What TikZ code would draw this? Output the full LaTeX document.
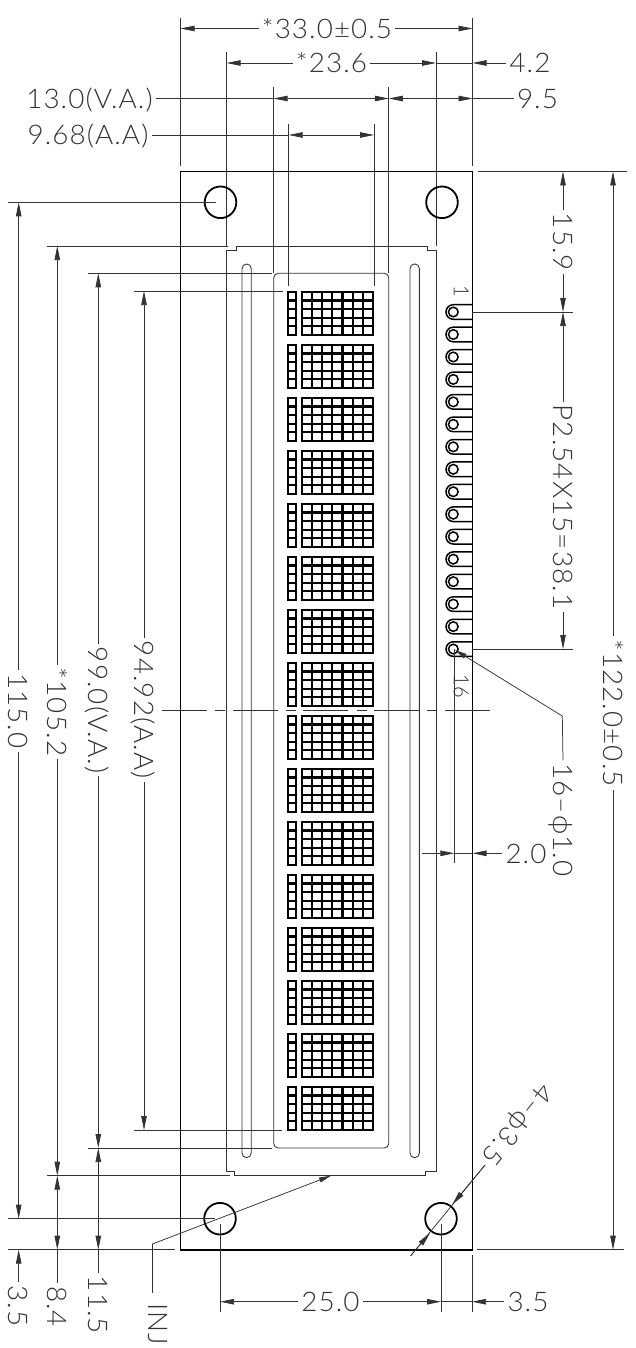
\documentclass[tikz,border=0pt]{standalone}
\usepackage{fontspec}
\usetikzlibrary{arrows.meta}
\newfontfamily\cad{Lato Light}[FakeStretch=1.03,LetterSpace=4]
\newfontfamily\cadsmall{Lato Light}[FakeStretch=0.95]
\definecolor{thin}{gray}{0.2}
\tikzset{
 x=1pt,y=-1pt,
 dim/.style={draw=thin,line width=0.75pt},
 ext/.style={draw=thin,line width=0.8pt},
 heavy/.style={draw=black,line width=1.8pt},
 inner/.style={draw=thin,line width=0.85pt},
 cell/.style={draw=black,line width=2.3pt},
 pin/.style={draw=black,line width=1.5pt},
 tipa/.style={{Triangle[length=14pt,width=5.5pt]}-},
 tipb/.style={-{Triangle[length=14pt,width=5.5pt]}},
 tipab/.style={{Triangle[length=14pt,width=5.5pt]}-{Triangle[length=14pt,width=5.5pt]}},
 lab/.style={font=\cad\fontsize{27}{27}\selectfont,text=thin,inner xsep=3pt,inner ysep=0pt,text height=19.5pt,text depth=0pt},
 labv/.style={lab,rotate=-90},
 tinylab/.style={font=\cadsmall\fontsize{21}{21}\selectfont,text=thin,inner sep=0pt,text height=15pt,text depth=0pt,rotate=-90},
}
\begin{document}
\begin{tikzpicture}
\useasboundingbox (0,0) rectangle (636,1348);
\fill[white] (0,0) rectangle (636,1348);
% named coordinates for the board
\coordinate (TL) at (180.5,171.5);
\coordinate (BR) at (472.5,1249.7);
\coordinate (H1) at (220.5,202.3);
\coordinate (H2) at (442,202.3);
\coordinate (H3) at (220,1218.7);
\coordinate (H4) at (441,1218.7);
% extension lines vertical
\foreach \x/\a/\b in {180.5/18/166, 472.5/18/166, 226.5/52/246, 436/52/246, 273.7/87.5/273, 388.8/87.5/273, 288.7/124/286, 374/124/286}
  \draw[ext] (\x,\a) -- (\x,\b);
% board
\draw[heavy] (TL) rectangle (BR);
\foreach \h in {H1,H2,H3,H4} \draw[heavy] (\h) circle (15.8);
% frame
\draw[inner] (236.7,246) -- (427,246) -- (427,250) -- (436,250) -- (436,1171) -- (425.7,1171) -- (425.7,1175.7) -- (234.3,1175.7) -- (234.3,1171) -- (226.5,1171) -- (226.5,250) -- (236.7,250) -- cycle;
% window
\draw[inner,rounded corners=4.5pt] (273.7,273.3) rectangle (388.8,1148);
% slots
\draw[inner] (242,1153) -- (242,268.6) arc[start angle=180,end angle=360,radius=4.6] -- (251.2,1153) arc[start angle=0,end angle=180,radius=4.6];
\draw[inner] (410,1153) -- (410,268.6) arc[start angle=180,end angle=360,radius=4.7] -- (419.4,1153) arc[start angle=0,end angle=180,radius=4.7];
% char blocks
\foreach \i in {0,...,15}{
 \begin{scope}[yshift=-\i*53pt]
  \draw[cell] (288.3,292) rectangle (296.3,334.8);
  \draw[cell] (301.7,292) rectangle (373,334.8);
  \foreach \r in {1,...,4} {
    \draw[cell] (288.3,292+\r*8.56) -- (296.3,292+\r*8.56);
    \draw[cell] (301.7,292+\r*8.56) -- (373,292+\r*8.56);
  }
  \foreach \c in {1,...,6} \draw[cell] (301.7+\c*10.19,292) -- (301.7+\c*10.19,334.8);
 \end{scope}
}
% pins
\foreach \i in {0,...,15}{
 \begin{scope}[yshift=-\i*22.47pt]
  \draw[pin] (472,304.7) -- (453.3,304.7) arc[start angle=-90,end angle=-270,radius=7.3] -- (472,319.3);
  \draw[pin] (453.3,312) circle (4.8);
 \end{scope}
}
\node[tinylab] (p1) at (461.3,291) {1};
\node[tinylab] (p16) at (461.3,686) {16};
% center line
\foreach \a/\b in {162/206.7,215/225,233.3/277.7,286/295.7,303/348.3,356.7/366.7,374/419,427/437,445/490}
  \draw[dim] (\a,710.5) -- (\b,710.5);
% top dims
\node[lab] (d33) at (327,28.5) {*33.0±0.5};
\draw[dim,tipa] (180.5,28.5) -- (d33.west);
\draw[dim,tipb] (d33.east) -- (472.5,28.5);
\node[lab] (d236) at (331.5,63) {*23.6};
\draw[dim,tipa] (226.5,63) -- (d236.west);
\draw[dim,tipb] (d236.east) -- (436,63);
\node[lab] (d42) at (530,63) {4.2};
\draw[dim] (436,63) -- (472.5,63);
\draw[dim,tipa] (472.5,63) -- (d42.west);
\node[lab] (d13) at (89.5,98.5) {13.0(V.A.)};
\draw[dim] (d13.east) -- (273.7,98.5);
\draw[dim,tipab] (273.7,98.5) -- (388.8,98.5);
\node[lab] (d95) at (537.5,98.5) {9.5};
\draw[dim,tipab] (388.8,98.5) -- (472.5,98.5);
\draw[dim] (472.5,98.5) -- (d95.west);
\node[lab] (d968) at (88,135) {9.68(A.A)};
\draw[dim] (d968.east) -- (288.7,135);
\draw[dim,tipab] (288.7,135) -- (374,135);
% left extension lines
\foreach \y/\a/\b in {202.3/8/216, 246/47/228, 273.3/87.5/272, 291/133.5/283, 1130/133.5/282, 1148/87.5/272, 1175.7/46.5/230, 1218.7/8/215, 1249.7/8/175}
  \draw[ext] (\a,\y) -- (\b,\y);
% left dims
\node[labv] (d115) at (18.7,711) {115.0};
\draw[dim,tipa] (18.7,202.3) -- (d115.west);
\draw[dim,tipb] (d115.east) -- (18.7,1218.7);
\node[labv] (d1052) at (57.3,712) {*105.2};
\draw[dim,tipa] (57.3,246) -- (d1052.west);
\draw[dim,tipb] (d1052.east) -- (57.3,1175.7);
\node[labv] (d99) at (98.3,710) {99.0(V.A.)};
\draw[dim,tipa] (98.3,273.3) -- (d99.west);
\draw[dim,tipb] (d99.east) -- (98.3,1148);
\node[labv] (d94) at (144,710) {94.92(A.A)};
\draw[dim,tipa] (144,291) -- (d94.west);
\draw[dim,tipb] (d94.east) -- (144,1130);
% bottom left dims
\node[labv] (d35a) at (18.7,1306) {3.5};
\draw[dim,tipa] (18.7,1249.7) -- (d35a.west);
\node[labv] (d84) at (57.3,1306.5) {8.4};
\draw[dim,tipab] (57.3,1175.7) -- (57.3,1249.7);
\draw[dim] (57.3,1249.7) -- (d84.west);
\node[labv] (d115b) at (98.3,1305) {11.5};
\draw[dim,tipab] (98.3,1148) -- (98.3,1249.7);
\draw[dim] (98.3,1249.7) -- (d115b.west);
% INJ
\node[labv] (inj) at (158,1324) {INJ};
\coordinate (injk) at (152.3,1244);
\coordinate (injt) at (331,1175.7);
\draw[dim] (152.3,1293) -- (injk);
\draw[dim,-{Triangle[length=12pt,width=5pt]}] (injk) -- (injt);
% bottom dims
\draw[ext] (220,1224) -- (220,1312);
\draw[ext] (441,1224) -- (441,1312);
\draw[ext] (472,1255) -- (472,1312);
\node[lab] (d25) at (330.5,1301.7) {25.0};
\draw[dim,tipa] (220,1301.7) -- (d25.west);
\draw[dim,tipb] (d25.east) -- (441,1301.7);
\node[lab] (d35b) at (528,1301.7) {3.5};
\draw[dim] (441,1301.7) -- (472,1301.7);
\draw[dim,tipa] (472,1301.7) -- (d35b.west);
% 4-phi
\node[lab,rotate=231] (d4) at (518,1125) {4–ϕ3.5};
\coordinate (a4) at (410.7,1255.7);
\coordinate (b4) at (485,1165);
\draw[dim] (a4) -- (b4);
\draw[dim,tipb] (a4) -- (430,1233);
\draw[dim,tipb] (b4) -- (452.3,1204.5);
% right dims
\draw[ext] (478,171.5) -- (627,171.5);
\draw[ext] (472,312) -- (573,312);
\draw[ext] (472,649) -- (573,649);
\draw[ext] (476.7,1249.7) -- (624,1249.7);
\node[labv] (d159) at (563,242) {15.9};
\draw[dim,tipa] (563,171.5) -- (d159.west);
\draw[dim,tipb] (d159.east) -- (563,312);
\node[labv] (dp) at (563,507) {P2.54X15=38.1};
\draw[dim,tipa] (563,312) -- (dp.west);
\draw[dim,tipb] (dp.east) -- (563,649);
\node[labv] (d122) at (613,713) {*122.0±0.5};
\draw[dim,tipa] (613,171.5) -- (d122.west);
\draw[dim,tipb] (d122.east) -- (613,1249.7);
% 16-phi
\node[labv] (d16) at (563,820) {16–ϕ1.0};
\coordinate (k16) at (562.3,716);
\draw[dim] (d16.west) -- (k16);
\draw[dim,-{Triangle[length=12pt,width=5pt]}] (k16) -- (455,650);
% 2.0
\draw[ext] (454.3,649) -- (454.3,863);
\node[lab] (d20) at (526,853.3) {2.0};
\draw[dim,tipb] (422,853.3) -- (454.3,853.3);
\draw[dim] (454.3,853.3) -- (472.5,853.3);
\draw[dim,tipa] (472.5,853.3) -- (d20.west);
\end{tikzpicture}
\end{document}
